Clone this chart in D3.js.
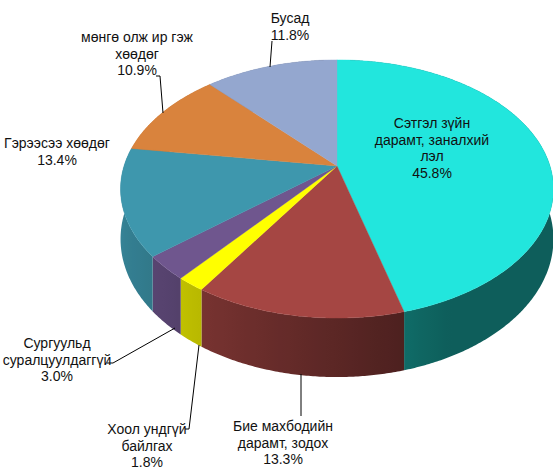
<!DOCTYPE html>
<html>
<head>
<meta charset="utf-8">
<script src="https://cdn.jsdelivr.net/npm/d3@7"></script>
<style>
  body { margin: 0; background: #fff; }
  svg { display: block; }
  text { font-family: "Liberation Sans Narrow", "Arial Narrow", "Liberation Sans", sans-serif; font-size: 14px; fill: #111; }
</style>
</head>
<body>
<svg id="chart" width="553" height="467"></svg>
<script>
// data
var categories = ["Сэтгэл зүйн дарамт, заналхийлэл", "Бие махбодийн дарамт, зодох", "Хоол ундгүй байлгах",
                  "Сургуульд суралцуулдаггүй", "Гэрээсээ хөөдөг", "мөнгө олж ир гэж хөөдөг", "Бусад"];
var values = [45.8, 13.3, 1.8, 3.0, 13.4, 10.9, 11.8];
var labelLines = [
    ["Сэтгэл зүйн", "дарамт, заналхий", "лэл"],
    ["Бие махбодийн", "дарамт, зодох"],
    ["Хоол ундгүй", "байлгах"],
    ["Сургуульд", "суралцуулдаггүй"],
    ["Гэрээсээ хөөдөг"],
    ["мөнгө олж ир гэж", "хөөдөг"],
    ["Бусад"]
];
var colors = ["#22e6dd", "#a54643", "#ffff00", "#6f568e", "#3e97ad", "#d9833d", "#94a7cf"];

// label layout: text centre x, first baseline y, leader polyline
var labelPos = [
    {x: 432, y: 128, line: null},
    {x: 283, y: 431, line: [[301, 374], [301, 416]]},
    {x: 147, y: 434, line: [[185, 429], [189, 429], [199, 345]]},
    {x: 57, y: 348, line: [[107, 363], [113, 363], [175, 328]]},
    {x: 57, y: 148, line: null},
    {x: 137, y: 42, line: [[156, 76], [160, 76], [163, 113]]},
    {x: 290, y: 23, line: [[272, 41], [270, 67]]}
];

var svg = d3.select("#chart");
var defs = svg.append("defs");

// 3d projection of the tilted pie
var cx = 337, cy = 166, rx = 213, ry = 125, k = 0.178, depth = 48.5;
function proj(a, r, h) {
    var u = r * Math.sin(a), v = -r * Math.cos(a);
    var w = 1 / (1 - k * v);
    return [cx + rx * u * w, cy + (ry * v + h * depth) * w];
}

function shade(c, a) {
    var f = 0.55 + 0.32 * (-Math.sin(a));
    f = Math.max(0.41, Math.min(0.86, f));
    var col = d3.rgb(c);
    return d3.rgb(col.r * f, col.g * f, col.b * f).toString();
}

var pie = d3.pie().sort(null).value(function(d) { return d; });
var arcs = pie(values);

var step = Math.PI / 360;
var line = d3.line();

function arcAngles(d) {
    var n = Math.max(2, Math.ceil((d.endAngle - d.startAngle) / step));
    return d3.range(n + 1).map(function(j) {
        return d.startAngle + (d.endAngle - d.startAngle) * j / n;
    });
}

// side walls, one path per slice with a horizontal gradient
var sides = svg.append("g");
arcs.forEach(function(d, i) {
    var angs = arcAngles(d);
    var front = angs.filter(function(a) { return -Math.cos(a) > -0.05; });
    if (!front.length) front = angs;
    var samples = front.map(function(a) { return {x: proj(a, 1, 0)[0], c: shade(colors[i], a)}; })
        .sort(function(p, q) { return p.x - q.x; });
    var x0 = samples[0].x, x1 = samples[samples.length - 1].x;
    if (x1 - x0 < 1) x1 = x0 + 1;
    var g = defs.append("linearGradient")
        .attr("id", "side" + i)
        .attr("gradientUnits", "userSpaceOnUse")
        .attr("x1", x0).attr("x2", x1).attr("y1", 0).attr("y2", 0);
    samples.filter(function(p, j) { return j % 4 === 0 || j === samples.length - 1; })
        .forEach(function(p) {
            g.append("stop").attr("offset", (p.x - x0) / (x1 - x0)).attr("stop-color", p.c);
        });
    var topPts = angs.map(function(a) { return proj(a, 1, 0); });
    var botPts = angs.slice().reverse().map(function(a) { return proj(a, 1, 1); });
    sides.append("path")
        .attr("d", line(topPts.concat(botPts)) + "Z")
        .attr("fill", "url(#side" + i + ")");
});

// top faces
var tops = svg.append("g");
arcs.forEach(function(d, i) {
    var pts = [proj(0, 0, 0)].concat(arcAngles(d).map(function(a) { return proj(a, 1, 0); }));
    tops.append("path")
        .attr("d", line(pts) + "Z")
        .attr("fill", colors[i])
        .attr("stroke", colors[i])
        .attr("stroke-width", 0.4);
});

// leader lines
svg.append("g").selectAll("path")
    .data(labelPos.filter(function(p) { return p.line; }))
    .enter().append("path")
    .attr("d", function(p) { return line(p.line); })
    .attr("fill", "none")
    .attr("stroke", "#000")
    .attr("stroke-width", 1);

// labels
var fmt = d3.format(".1f");
var lab = svg.append("g").selectAll("text")
    .data(arcs)
    .enter().append("text")
    .attr("text-anchor", "middle")
    .attr("x", function(d, i) { return labelPos[i].x; })
    .attr("y", function(d, i) { return labelPos[i].y; });

lab.each(function(d, i) {
    var t = d3.select(this);
    var lines = labelLines[i].concat([fmt(values[i]) + "%"]);
    lines.forEach(function(s, j) {
        t.append("tspan")
            .attr("x", labelPos[i].x)
            .attr("dy", j === 0 ? 0 : 16.6)
            .text(s);
    });
});
</script>
</body>
</html>
